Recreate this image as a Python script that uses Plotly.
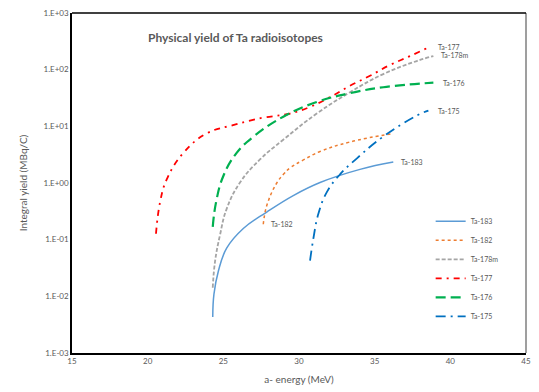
import math
import plotly.graph_objects as go

# ---- data ----
x183 = [24.30, 24.38, 24.67, 25.22, 26.32, 27.87, 29.62, 31.39, 34.03, 36.23]
y183 = [0.0043, 0.0109, 0.0277, 0.0706, 0.157, 0.307, 0.60, 1.02, 1.74, 2.34]

x182 = [27.64, 27.87, 28.53, 29.00, 29.41, 30.29, 31.39, 33.37, 36.23]
y182 = [0.187, 0.40, 1.0, 1.45, 1.85, 2.55, 3.6, 5.3, 7.5]

x178m = [24.30, 24.45, 24.78, 25.22, 26.10, 27.42, 28.96, 31.17, 33.37, 35.57, 37.78, 38.88]
y178m = [0.0142, 0.041, 0.121, 0.35, 1.02, 2.6, 5.8, 16.8, 40, 83.6, 142, 174]

x177 = [20.55, 20.82, 21.26, 22.36, 23.90, 25.64, 26.76, 27.60, 29.41, 30.73, 32.05, 33.37, 34.69, 36.01, 37.34, 38.50]
y177 = [0.127, 0.46, 1.16, 3.4, 7.5, 10.5, 12.6, 14.2, 16.8, 22, 32.8, 52, 78, 121, 174, 243]

x176 = [24.30, 24.52, 25.00, 25.88, 27.00, 28.96, 31.17, 33.37, 35.57, 38.88]
y176 = [0.168, 0.46, 1.33, 3.4, 6.6, 14.8, 26.9, 38.5, 49, 59]

x175 = [30.73, 30.95, 31.28, 31.83, 32.71, 33.81, 35.57, 37.78, 38.55]
y175 = [0.0426, 0.105, 0.286, 0.684, 1.42, 2.7, 6.6, 15.5, 19.0]

xticks = [15, 20, 25, 30, 35, 40, 45]
yticks = [1e-3, 1e-2, 1e-1, 1e0, 1e1, 1e2, 1e3]
yticktext = ["1.E-03", "1.E-02", "1.E-01", "1.E+00", "1.E+01", "1.E+02", "1.E+03"]

series = [
    ("Ta-183", x183, y183, "#5B9BD5", "solid", 1.5),
    ("Ta-182", x182, y182, "#ED7D31", "dot", 1.5),
    ("Ta-178m", x178m, y178m, "#A5A5A5", "4px,2px", 1.8),
    ("Ta-177", x177, y177, "#FF0000", "6px,5px,2px,5px", 1.8),
    ("Ta-176", x176, y176, "#00B050", "10px,5px", 2.2),
    ("Ta-175", x175, y175, "#0070C0", "10px,5px,2px,5px", 1.8),
]

FONT = "Lato"
GRAY = "#595959"

fig = go.Figure()
for name, xs, ys, col, dash, w in series:
    fig.add_trace(go.Scatter(
        x=xs, y=ys, mode="lines", name=name,
        line=dict(color=col, dash=dash, width=w, shape="spline", smoothing=1.2),
    ))

# curve labels anchored to the curves' end (or start) points
label_specs = [
    ("Ta-177", x177, y177, -1, 8, 1),
    ("Ta-178m", x178m, y178m, -1, 6, 1),
    ("Ta-176", x176, y176, -1, 8, 0),
    ("Ta-175", x175, y175, -1, 8, 0),
    ("Ta-183", x183, y183, -1, 6, 0),
    ("Ta-182", x182, y182, 0, 6, 0),
]
for txt, xs, ys, idx, dx, dy in label_specs:
    fig.add_annotation(
        x=xs[idx], y=math.log10(ys[idx]), xref="x", yref="y", text=txt, showarrow=False,
        xanchor="left", yanchor="middle", xshift=dx, yshift=dy,
        font=dict(family=FONT, size=7, color=GRAY),
    )

fig.add_annotation(
    x=0.361, y=0.928, xref="paper", yref="paper",
    text="<b>Physical yield of Ta radioisotopes</b>", showarrow=False,
    xanchor="center", yanchor="middle",
    font=dict(family=FONT, size=12, color=GRAY),
)

# frame: top black, right gray
fig.add_shape(type="line", xref="paper", yref="paper", x0=1, x1=1, y0=0, y1=1,
              line=dict(color="#7F7F7F", width=1.5))
fig.add_shape(type="line", xref="paper", yref="paper", x0=0, x1=1, y0=1, y1=1,
              line=dict(color="black", width=1.5))

fig.update_layout(
    width=539, height=392,
    margin=dict(l=72, r=13, t=8, b=39),
    paper_bgcolor="white", plot_bgcolor="white",
    font=dict(family=FONT, color=GRAY),
    showlegend=True,
    legend=dict(
        x=0.79, y=0.43, xanchor="left", yanchor="top",
        font=dict(family=FONT, size=7, color=GRAY),
        tracegroupgap=0, itemwidth=30, bgcolor="rgba(0,0,0,0)",
    ),
    xaxis=dict(
        range=[15, 45], tickvals=xticks, ticktext=[str(v) for v in xticks],
        showgrid=False, zeroline=False, showline=True, linecolor="black", linewidth=1.5,
        ticks="", tickfont=dict(family=FONT, size=8, color=GRAY),
        title=dict(text="a- energy (MeV)", font=dict(family=FONT, size=10, color=GRAY), standoff=11),
    ),
    yaxis=dict(
        type="log", range=[-3, 3], tickvals=yticks, ticktext=yticktext,
        showgrid=False, zeroline=False, showline=True, linecolor="black", linewidth=1.5,
        ticks="", tickfont=dict(family=FONT, size=8, color=GRAY),
        title=dict(text="Integral yield (MBq/C)", font=dict(family=FONT, size=10, color=GRAY), standoff=14),
    ),
)

fig.write_html("out.html")
